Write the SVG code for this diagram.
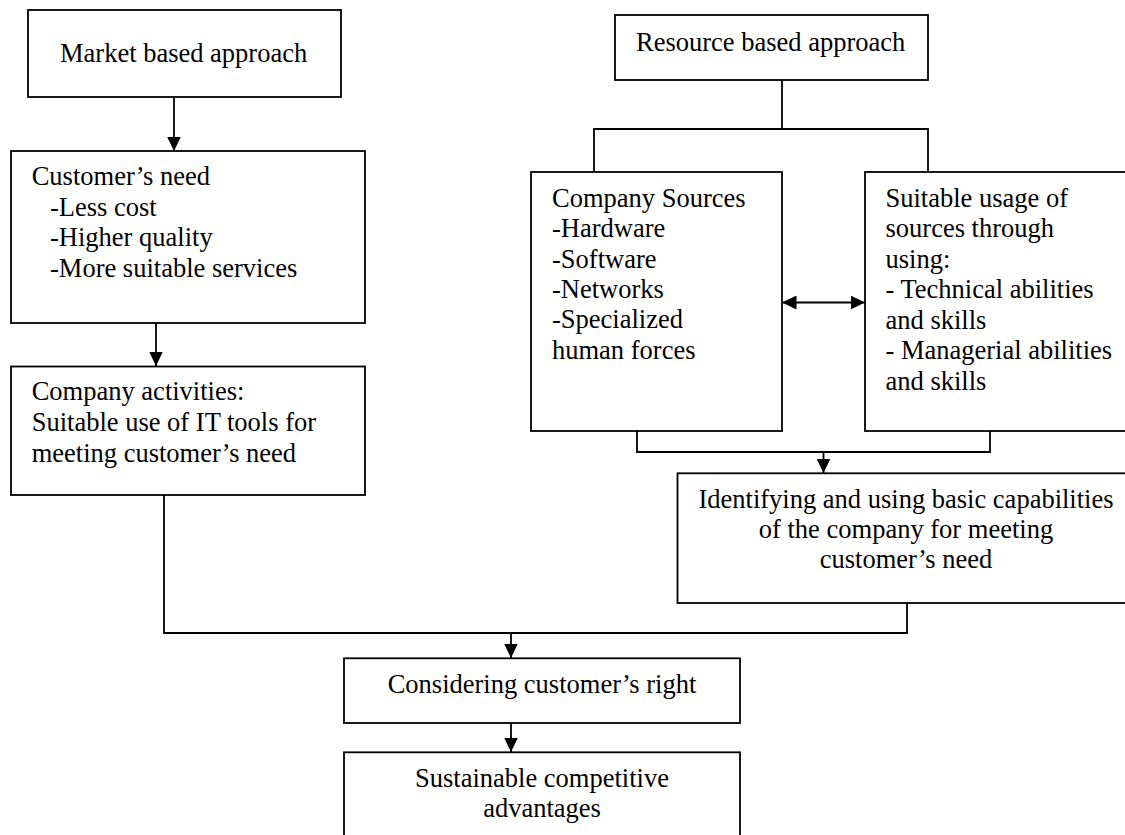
<svg xmlns="http://www.w3.org/2000/svg" width="1125" height="835" viewBox="0 0 1125 835">
<style>
  .box { fill: #fff; stroke: #000; stroke-width: 1.8; }
  .line { fill: none; stroke: #000; stroke-width: 1.8; }
  text { font-family: "Liberation Serif", "Times New Roman", serif; font-size: 26.5px; fill: #000; }
  .c { text-anchor: middle; }
</style>
<defs>
  <marker id="arr" markerUnits="userSpaceOnUse" markerWidth="16" markerHeight="16" refX="14.5" refY="7" orient="auto">
    <path d="M0,0 L14.5,7 L0,14 z" fill="#000"/>
  </marker>
  <marker id="arrs" markerUnits="userSpaceOnUse" markerWidth="16" markerHeight="16" refX="0" refY="7" orient="auto">
    <path d="M14.5,0 L0,7 L14.5,14 z" fill="#000"/>
  </marker>
</defs>
<rect width="1125" height="835" fill="#fff"/>

<g id="connectors">
  <line class="line" x1="174" y1="97" x2="174" y2="151" marker-end="url(#arr)"/>
  <line class="line" x1="156" y1="323" x2="156" y2="366" marker-end="url(#arr)"/>
  <polyline class="line" points="782,80 782,129"/>
  <polyline class="line" points="594,172 594,129 928,129 928,172"/>
  <line class="line" x1="782" y1="302.5" x2="865" y2="302.5" marker-start="url(#arrs)" marker-end="url(#arr)"/>
  <polyline class="line" points="637,431 637,452 990,452 990,431"/>
  <line class="line" x1="823.5" y1="452" x2="823.5" y2="473" marker-end="url(#arr)"/>
  <polyline class="line" points="164,495 164,633 907,633 907,603"/>
  <line class="line" x1="511" y1="633" x2="511" y2="658" marker-end="url(#arr)"/>
  <line class="line" x1="511" y1="723" x2="511" y2="752" marker-end="url(#arr)"/>
</g>

<g id="market">
  <rect class="box" x="28" y="10" width="313" height="87"/>
  <text x="60" y="62">Market based approach</text>
</g>

<g id="customer-need">
  <rect class="box" x="11" y="151" width="354" height="172"/>
  <text x="31.7" y="185">Customer’s need</text>
  <text x="50" y="215.5">-Less cost</text>
  <text x="50" y="246">-Higher quality</text>
  <text x="50" y="277">-More suitable services</text>
</g>

<g id="company-activities">
  <rect class="box" x="11" y="366.5" width="354" height="128.5"/>
  <text x="31.7" y="400">Company activities:</text>
  <text x="31.7" y="431">Suitable use of IT tools for</text>
  <text x="31.7" y="462">meeting customer’s need</text>
</g>

<g id="resource">
  <rect class="box" x="615" y="15" width="313" height="65"/>
  <text x="636" y="51">Resource based approach</text>
</g>

<g id="company-sources">
  <rect class="box" x="531" y="172" width="251" height="259"/>
  <text x="552" y="206.7">Company Sources</text>
  <text x="552" y="237">-Hardware</text>
  <text x="552" y="267.5">-Software</text>
  <text x="552" y="298">-Networks</text>
  <text x="552" y="328.3">-Specialized</text>
  <text x="552" y="358.5">human forces</text>
</g>

<g id="suitable-usage">
  <rect class="box" x="865" y="172" width="265" height="259"/>
  <text x="885.5" y="206.7">Suitable usage of</text>
  <text x="885.5" y="237">sources through</text>
  <text x="885.5" y="267.7">using:</text>
  <text x="885.5" y="298.3">- Technical abilities</text>
  <text x="885.5" y="328.7">and skills</text>
  <text x="885.5" y="359.2">- Managerial abilities</text>
  <text x="885.5" y="389.7">and skills</text>
</g>

<g id="identifying">
  <rect class="box" x="677.5" y="473.3" width="453" height="129.7"/>
  <text class="c" x="906" y="508.3">Identifying and using basic capabilities</text>
  <text class="c" x="906" y="538.3">of the company for meeting</text>
  <text class="c" x="906" y="568.3">customer’s need</text>
</g>

<g id="considering">
  <rect class="box" x="344" y="658.3" width="396" height="64.7"/>
  <text class="c" x="542" y="693">Considering customer’s right</text>
</g>

<g id="sustainable">
  <rect class="box" x="344" y="752.3" width="396" height="90"/>
  <text class="c" x="542" y="786.7">Sustainable competitive</text>
  <text class="c" x="542" y="817.3">advantages</text>
</g>
</svg>
